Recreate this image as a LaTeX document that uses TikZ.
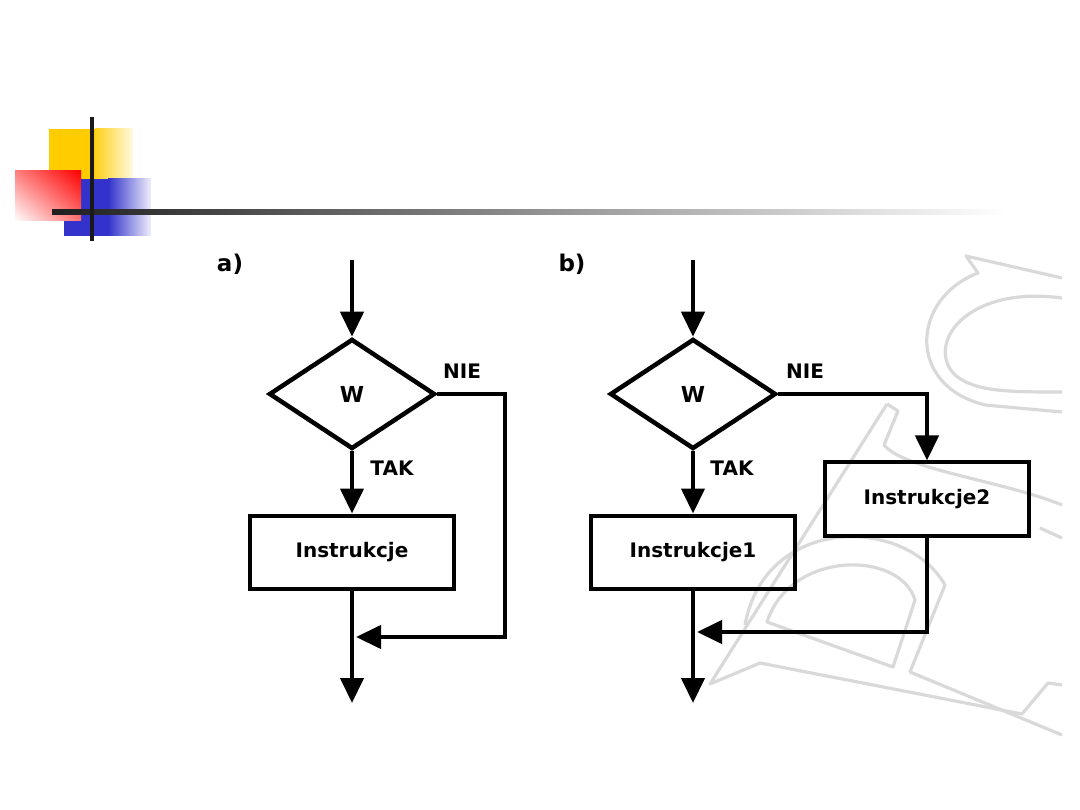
\documentclass[tikz,border=0pt]{standalone}
\usepackage{fontspec}
\setmainfont{DejaVu Sans}
\usepackage{tikz}
\usetikzlibrary{shapes.geometric, arrows.meta, positioning, calc, shadings}

\definecolor{slideyellow}{HTML}{FFCC00}
\definecolor{slideblue}{HTML}{3333CC}

\begin{document}
\begin{tikzpicture}[x=1pt, y=-1pt, >={Triangle[length=25pt, width=23pt]},
    every node/.style={font=\bfseries\fontsize{20}{20}\selectfont},
    flow/.style={line width=4.2pt},
    decision/.style={diamond, draw, line width=4.5pt, aspect=1.5, inner sep=0pt,
        minimum width=166pt, minimum height=110pt, font=\bfseries\fontsize{22}{22}\selectfont},
    stepbox/.style={rectangle, draw, line width=4pt, minimum width=204pt, minimum height=73pt,
        font=\bfseries\fontsize{20}{20}\selectfont},
    partlabel/.style={font=\bfseries\fontsize{23}{23}\selectfont},
    wm/.style={gray!30, line width=3.2pt, line join=round}]
    \useasboundingbox (0,0) rectangle (1080,810);

    % slide corner
    \fill[slideyellow] (49,129) rectangle (95,179);
    \shade[left color=slideyellow!90, right color=slideyellow!12] (95,129) rectangle (133,179);
    \fill[slideblue] (64,179) rectangle (108,236);
    \shade[left color=slideblue, right color=slideblue!8] (108,179) rectangle (151,236);
    \shade[upper right=red, lower left=white, upper left=red!50, lower right=red!55] (15,171) rectangle (81,221);
    \shade[left color=black!88, right color=white] (52,210) rectangle (1005,215);
    \draw[line width=4pt, black!90] (92,117) -- (92,241);

    % watermark
    \draw[wm] (1062,278) -- (966,256) -- (978,273) .. controls (912,298) and (905,385) .. (985,405) -- (1062,412);
    \draw[wm] (1062,298) .. controls (965,285) and (925,345) .. (955,375) .. controls (975,392) and (1010,392) .. (1062,392);
    \draw[wm] (887,404) -- (898,411) -- (884,445) .. controls (905,470) and (1000,480) .. (1062,505);
    \draw[wm] (1040,528) -- (1062,538);
    \draw[wm] (887,404) -- (710,684) -- (760,663) -- (1022,714) -- (1048,683) -- (1062,685);
    \draw[wm] (745,625) .. controls (765,515) and (905,515) .. (945,585) -- (910,672) -- (1062,735);
    \draw[wm] (767,622) .. controls (790,550) and (900,550) .. (915,600) -- (893,667) -- cycle;

    % a)
    \node[partlabel] (la) at (230,264) {a)};
    \coordinate (ina) at (352,260);
    \node[decision] (wa) at (352,394) {W};
    \node[stepbox] (ia) at (352,552) {Instrukcje};
    \coordinate (cornA) at (505,637);
    \coordinate (joinA) at (356,637);
    \coordinate (outa) at (352,703);
    \node (nia) at (462,371) {NIE};
    \node (taka) at (392,468) {TAK};
    \draw[flow, ->] (ina) -- (wa.north);
    \draw[flow, ->] (wa.south) -- (ia.north);
    \draw[flow, ->] (ia.south) -- (outa);
    \draw[flow, ->] (wa.east) -| (cornA) -- (joinA);

    % b)
    \node[partlabel] (lb) at (572,264) {b)};
    \coordinate (inb) at (693,260);
    \node[decision] (wb) at (693,394) {W};
    \node[stepbox] (ib1) at (693,552) {Instrukcje1};
    \node[stepbox] (ib2) at (927,499) {Instrukcje2};
    \coordinate (joinB) at (697,632);
    \coordinate (outb) at (693,703);
    \node (nib) at (805,371) {NIE};
    \node (takb) at (732,468) {TAK};
    \draw[flow, ->] (inb) -- (wb.north);
    \draw[flow, ->] (wb.south) -- (ib1.north);
    \draw[flow, ->] (ib1.south) -- (outb);
    \draw[flow, ->] (wb.east) -| (ib2.north);
    \draw[flow, ->] (ib2.south) |- (joinB);
\end{tikzpicture}
\end{document}
